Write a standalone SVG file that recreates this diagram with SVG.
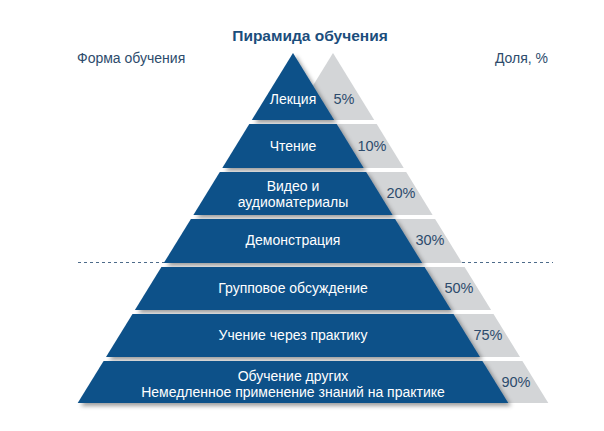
<svg xmlns="http://www.w3.org/2000/svg" width="604" height="431" viewBox="0 0 604 431">
<defs>
<filter id="sh" x="-10%" y="-20%" width="130%" height="160%">
<feDropShadow dx="3" dy="3" stdDeviation="2.2" flood-color="#000" flood-opacity="0.38"/>
</filter>
<style>
.blue{fill:#0e5189;filter:url(#sh)}
.gray{fill:#d3d5d7}
.lbl{font-family:"Liberation Sans",Arial,sans-serif;font-size:14px;fill:#ffffff;text-anchor:middle}
.pct{font-family:"Liberation Sans",Arial,sans-serif;font-size:14.5px;fill:#2d4b6c;text-anchor:middle}
.hdr{font-family:"Liberation Sans",Arial,sans-serif;font-size:14px;fill:#2d4b6c}
.title{font-family:"Liberation Sans",Arial,sans-serif;font-size:15.5px;font-weight:bold;fill:#1b4d7c;text-anchor:middle}
</style>
</defs>
<rect width="604" height="431" fill="#ffffff"/>
<text class="title" x="310" y="41">Пирамида обучения</text>
<text class="hdr" x="77" y="63">Форма обучения</text>
<text class="hdr" x="548" y="63" text-anchor="end">Доля, %</text>
<g id="connectors">
<line x1="78" y1="262.5" x2="553" y2="262.5" stroke="#4d6b8a" stroke-width="1" stroke-dasharray="3,3"/>
</g>
<g id="gray-pyramid">
<polygon class="gray" points="333,53 374.2,120 291.8,120"/>
<polygon class="gray" points="289.3,124 376.7,124 403.7,168 262.3,168"/>
<polygon class="gray" points="259.8,172 406.2,172 432.6,215 233.4,215"/>
<polygon class="gray" points="230.9,219 435.1,219 462.2,263 203.8,263"/>
<polygon class="gray" points="201.4,267 464.6,267 491.1,310 174.9,310"/>
<polygon class="gray" points="172.5,314 493.5,314 520,357 146,357"/>
<polygon class="gray" points="143.6,361 522.4,361 548.3,403 117.7,403"/>
</g>
<g id="n1">
<polygon class="blue" points="293,53 334.2,120 251.8,120"/>
<text class="lbl" x="293" y="104">Лекция</text>
<text class="pct" x="344" y="104">5%</text>
</g>
<g id="n2">
<polygon class="blue" points="249.3,124 336.7,124 363.7,168 222.3,168"/>
<text class="lbl" x="293" y="151">Чтение</text>
<text class="pct" x="372" y="151">10%</text>
</g>
<g id="n3">
<polygon class="blue" points="219.8,172 366.2,172 392.6,215 193.4,215"/>
<text class="lbl" x="293" y="191">Видео и</text>
<text class="lbl" x="293" y="207">аудиоматериалы</text>
<text class="pct" x="401" y="198">20%</text>
</g>
<g id="n4">
<polygon class="blue" points="190.9,219 395.1,219 422.2,263 163.8,263"/>
<text class="lbl" x="293" y="245">Демонстрация</text>
<text class="pct" x="430" y="245">30%</text>
</g>
<g id="n5">
<polygon class="blue" points="161.4,267 424.6,267 451.1,310 134.9,310"/>
<text class="lbl" x="293" y="293">Групповое обсуждение</text>
<text class="pct" x="459" y="293">50%</text>
</g>
<g id="n6">
<polygon class="blue" points="132.5,314 453.5,314 480,357 106,357"/>
<text class="lbl" x="293" y="340">Учение через практику</text>
<text class="pct" x="488" y="340">75%</text>
</g>
<g id="n7">
<polygon class="blue" points="103.6,361 482.4,361 508.3,403 77.7,403"/>
<text class="lbl" x="293" y="381">Обучение других</text>
<text class="lbl" x="293" y="397">Немедленное применение знаний на практике</text>
<text class="pct" x="516" y="387">90%</text>
</g>
</svg>
